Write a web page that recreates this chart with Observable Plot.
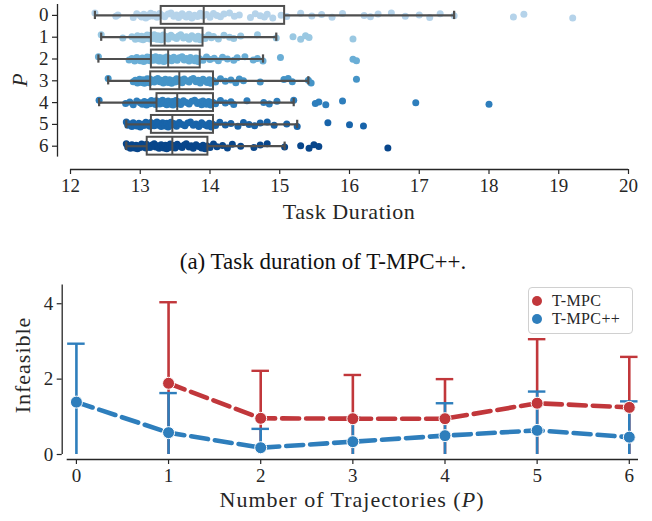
<!DOCTYPE html>
<html><head><meta charset="utf-8">
<script src="https://cdn.jsdelivr.net/npm/d3@7"></script>
<script src="https://cdn.jsdelivr.net/npm/@observablehq/plot@0.6"></script>
<style>
body{margin:0;background:#fff}
#wrap{position:relative;width:652px;height:521px;font-family:"Liberation Serif",serif;color:#262626;background:#fff;overflow:hidden}
#wrap svg{position:absolute;left:0;overflow:visible;font-family:"Liberation Serif",serif}
#caption{position:absolute;left:0;width:646px;top:248px;text-align:center;font-size:23px;line-height:28px;color:#111}
#legend{position:absolute;left:528px;top:287px;width:105px;height:47px;border:1px solid #d0d0d0;border-radius:4px;background:rgba(255,255,255,0.85);box-sizing:border-box;font-size:16px}
#legend .row{position:absolute;left:0;height:18px;line-height:18px;white-space:nowrap}
#legend .dot{position:absolute;left:3px;top:4px;width:10px;height:10px;border-radius:50%}
#legend .lab{position:absolute;left:23px;top:0;letter-spacing:0.4px}
</style></head><body><div id="wrap"></div><script>
// ---------- top panel: task duration per number of trajectories P ----------
const P = [0, 1, 2, 3, 4, 5, 6];
const durationTicks = [12, 13, 14, 15, 16, 17, 18, 19, 20];
const dur0 = [12.35,12.65,12.68,12.9,12.95,13.0,13.02,13.05,13.08,13.1,13.12,13.15,13.18,13.2,13.24,13.28,
  13.32,13.35,13.4,13.44,13.48,13.52,13.55,13.6,13.63,13.66,13.7,13.74,13.78,13.82,13.86,13.9,
  13.95,14.0,14.05,14.1,14.15,14.2,14.28,14.35,14.42,14.58,14.65,14.72,14.78,14.82,14.9,15.02,
  15.1,15.3,15.46,15.6,15.75,15.9,16.21,16.3,16.41,16.6,16.8,17.0,17.15,17.3,17.5,18.35,18.5,19.2];
const dur1 = [12.44,12.75,12.88,12.93,12.96,12.98,13.0,13.02,13.04,13.06,13.08,13.1,13.11,13.12,13.14,13.15,
  13.17,13.18,13.19,13.2,13.21,13.22,13.24,13.25,13.26,13.27,13.28,13.3,13.31,13.32,13.33,13.34,
  13.37,13.4,13.44,13.48,13.52,13.55,13.58,13.62,13.66,13.7,13.74,13.78,13.8,13.83,13.86,13.89,
  13.93,13.98,14.02,14.05,14.12,14.2,14.28,14.34,14.44,14.68,14.95,15.19,15.3,15.37,15.42,16.05];
const dur2 = [12.4,12.84,12.88,12.92,12.95,12.98,13.0,13.03,13.05,13.07,13.09,13.1,13.12,13.13,13.14,13.15,
  13.17,13.19,13.2,13.22,13.24,13.25,13.27,13.28,13.3,13.31,13.33,13.34,13.35,13.37,13.38,13.39,
  13.42,13.45,13.48,13.5,13.53,13.56,13.6,13.63,13.66,13.7,13.72,13.75,13.78,13.8,13.83,13.85,
  13.9,13.95,14.0,14.06,14.12,14.18,14.25,14.34,14.39,14.5,14.62,14.68,14.76,15.01,16.05,16.1];
const dur3 = [12.54,12.9,12.93,12.96,12.99,13.0,13.02,13.04,13.06,13.07,13.09,13.1,13.11,13.12,13.13,13.14,
  13.17,13.2,13.22,13.25,13.28,13.3,13.33,13.36,13.38,13.4,13.42,13.45,13.48,13.5,13.52,13.55,
  13.58,13.6,13.63,13.66,13.7,13.73,13.76,13.8,13.83,13.86,13.9,13.93,13.96,13.99,14.01,14.04,
  14.08,14.15,14.22,14.3,14.37,14.42,14.48,14.72,15.06,15.12,15.18,15.41,15.45,16.1];
const dur4 = [12.41,12.79,12.85,12.9,12.95,13.0,13.03,13.06,13.09,13.12,13.14,13.16,13.18,13.2,13.22,13.23,
  13.26,13.28,13.3,13.32,13.34,13.36,13.38,13.4,13.42,13.44,13.46,13.47,13.48,13.5,13.51,13.52,
  13.55,13.58,13.62,13.66,13.7,13.74,13.78,13.82,13.86,13.88,13.9,13.92,13.95,13.98,14.01,14.04,
  14.08,14.15,14.22,14.3,14.34,14.53,14.77,14.85,14.96,15.2,15.51,15.56,15.66,15.9,16.95,18.0];
const dur5 = [12.8,12.82,12.85,12.88,12.9,12.93,12.95,12.98,13.0,13.03,13.05,13.08,13.1,13.12,13.14,13.15,
  13.18,13.2,13.22,13.24,13.26,13.28,13.3,13.32,13.34,13.36,13.38,13.4,13.41,13.42,13.44,13.45,
  13.48,13.52,13.56,13.6,13.64,13.68,13.72,13.76,13.8,13.84,13.88,13.92,13.96,13.99,14.02,14.04,
  14.08,14.14,14.22,14.3,14.4,14.48,14.56,14.64,14.72,14.82,14.92,15.1,15.25,15.69,16.0,16.2];
const dur6 = [12.8,12.82,12.84,12.86,12.88,12.9,12.92,12.94,12.96,12.98,13.0,13.02,13.04,13.06,13.08,13.09,
  13.12,13.14,13.17,13.2,13.22,13.25,13.27,13.3,13.32,13.34,13.36,13.38,13.4,13.42,13.43,13.45,
  13.48,13.5,13.53,13.56,13.6,13.63,13.66,13.7,13.73,13.76,13.8,13.84,13.88,13.9,13.93,13.96,
  14.0,14.05,14.1,14.18,14.25,14.32,14.44,14.63,14.72,14.82,15.07,15.3,15.42,15.49,15.56,16.55];
const boxWhiskerLow = [12.35, 12.44, 12.40, 12.54, 12.41, 12.80, 12.80];
const boxQ1         = [13.30, 13.16, 13.16, 13.15, 13.24, 13.16, 13.10];
const boxMedian     = [13.91, 13.35, 13.40, 13.56, 13.53, 13.46, 13.46];
const boxQ3         = [15.07, 13.90, 13.86, 14.05, 14.05, 14.05, 13.97];
const boxWhiskerHigh= [17.50, 14.95, 14.76, 15.41, 15.20, 15.25, 15.07];
const rowColors = ["#b5d3ea", "#9ac8e2", "#6aaed6", "#4594c7", "#2e7ebc", "#1864aa", "#08468b"];

// ---------- bottom panel: infeasible count ----------
const trajCount = [0, 1, 2, 3, 4, 5, 6];
const tmpcP = [1, 2, 3, 4, 5, 6];
const tmpcMean = [1.89, 0.96, 0.95, 0.95, 1.36, 1.25];
const tmpcStd  = [2.15, 1.26, 1.16, 1.05, 1.70, 1.34];
const tmpcppP = [0, 1, 2, 3, 4, 5, 6];
const tmpcppMean = [1.39, 0.58, 0.18, 0.34, 0.50, 0.64, 0.46];
const tmpcppStd  = [1.55, 1.05, 0.50, 0.63, 0.86, 1.03, 0.95];
const infeasibleTicks = [0, 2, 4];
const seriesNames = ["T-MPC", "T-MPC++"];
const seriesColors = ["#c1373b", "#2e7ebc"];

// jitter pattern for the strip (visual spread only)
const jitterPattern = [-0.9,0.35,-0.2,0.8,-0.6,0.1,0.65,-0.4,0.95,-0.1,0.45,-0.8,0.2,-0.3,0.7,-0.7,0.0,0.5,-0.5];
const durRows = [dur0, dur1, dur2, dur3, dur4, dur5, dur6];
const points = durRows.flatMap((vals, p) => vals.map((v, i) => ({p, v, yj: p + jitterPattern[i % jitterPattern.length] * 0.12})));

const axisColor = "#262626";
const boxColor = "#4f4f4f";
const fontFam = "'Liberation Serif', serif";
const wrap = document.getElementById("wrap");

const topPlot = Plot.plot({
  width: 652, height: 232,
  marginLeft: 57, marginRight: 24, marginTop: 4, marginBottom: 63,
  x: {domain: [12, 20], insetLeft: 13},
  y: {domain: [-0.5, 6.5], reverse: true, insetBottom: 12.4},
  color: {type: "ordinal", domain: P, range: rowColors},
  style: {fontFamily: fontFam, fontSize: "19px", color: axisColor, background: "transparent"},
  marks: [
    Plot.dot(points, {x: "v", y: "yj", r: 3.5, fill: "p", stroke: "none"}),
    Plot.ruleY(P, {y: P, x1: boxWhiskerLow, x2: boxQ1, stroke: boxColor, strokeWidth: 2.2}),
    Plot.ruleY(P, {y: P, x1: boxQ3, x2: boxWhiskerHigh, stroke: boxColor, strokeWidth: 2.2}),
    Plot.ruleX(P, {x: boxWhiskerLow, y1: P.map(p => p - 0.19), y2: P.map(p => p + 0.19), stroke: boxColor, strokeWidth: 2.2}),
    Plot.ruleX(P, {x: boxWhiskerHigh, y1: P.map(p => p - 0.19), y2: P.map(p => p + 0.19), stroke: boxColor, strokeWidth: 2.2}),
    Plot.rect(P, {x1: boxQ1, x2: boxQ3, y1: P.map(p => p - 0.41), y2: P.map(p => p + 0.41), fill: "none", stroke: boxColor, strokeWidth: 2}),
    Plot.ruleX(P, {x: boxMedian, y1: P.map(p => p - 0.41), y2: P.map(p => p + 0.41), stroke: boxColor, strokeWidth: 2}),
    Plot.axisX(durationTicks, {tickSize: 5, tickPadding: 4, label: null, stroke: axisColor, strokeWidth: 1.2}),
    Plot.axisY(P, {tickSize: 5, tickPadding: 4, label: null, stroke: axisColor, strokeWidth: 1.2}),
    Plot.ruleX([12], {y1: -0.5, y2: 6.5, dx: -13, stroke: axisColor, strokeWidth: 1.3}),
    Plot.ruleY([6.5], {x1: 12, x2: 20, dy: 12.4, stroke: axisColor, strokeWidth: 1.3})
  ]
});
topPlot.style.top = "0px";
wrap.appendChild(topPlot);
const ts = d3.select(topPlot);
ts.append("text").attr("transform", "translate(27,80) rotate(-90)").attr("text-anchor", "middle")
  .attr("font-family", fontFam).attr("font-size", 22).attr("font-style", "italic").attr("fill", axisColor).text("P");
ts.append("text").attr("x", 349).attr("y", 219).attr("text-anchor", "middle")
  .attr("font-family", fontFam).attr("font-size", 22).attr("letter-spacing", 0.6).attr("fill", axisColor).text("Task Duration");

const cap = document.createElement("div");
cap.id = "caption";
cap.textContent = "(a) Task duration of T-MPC++.";
wrap.appendChild(cap);

const errTop = (m, s) => m + s;
const errLow = (m, s) => Math.max(0, m - s);
const capHalf = 0.095;
const red = seriesColors[0], blue = seriesColors[1];
const tmpc = tmpcP.map((p, i) => ({p, m: tmpcMean[i], lo: errLow(tmpcMean[i], tmpcStd[i]), hi: errTop(tmpcMean[i], tmpcStd[i])}));
const tmpcpp = tmpcppP.map((p, i) => ({p, m: tmpcppMean[i], lo: errLow(tmpcppMean[i], tmpcppStd[i]), hi: errTop(tmpcppMean[i], tmpcppStd[i])}));

const bottomPlot = Plot.plot({
  width: 652, height: 251,
  marginLeft: 61.7, marginRight: 14, marginTop: 14.4, marginBottom: 62,
  x: {domain: [-0.1, 6.1], insetLeft: 5},
  y: {domain: [0, 4.5], insetBottom: 5},
  style: {fontFamily: fontFam, fontSize: "19px", color: axisColor, background: "transparent"},
  marks: [
    Plot.ruleX(tmpc, {x: "p", y1: "lo", y2: "hi", stroke: red, strokeWidth: 2.6}),
    Plot.ruleY(tmpc, {y: "hi", x1: d => d.p - capHalf, x2: d => d.p + capHalf, stroke: red, strokeWidth: 2.4}),
    Plot.ruleX(tmpcpp, {x: "p", y1: "lo", y2: "hi", stroke: blue, strokeWidth: 2.6}),
    Plot.ruleY(tmpcpp, {y: "hi", x1: d => d.p - capHalf, x2: d => d.p + capHalf, stroke: blue, strokeWidth: 2.4}),
    Plot.line(tmpc, {x: "p", y: "m", stroke: red, strokeWidth: 4.6, strokeDasharray: "17,7"}),
    Plot.dot(tmpc, {x: "p", y: "m", r: 6, fill: red, stroke: "white", strokeWidth: 1}),
    Plot.line(tmpcpp, {x: "p", y: "m", stroke: blue, strokeWidth: 4.6, strokeDasharray: "17,7"}),
    Plot.dot(tmpcpp, {x: "p", y: "m", r: 6, fill: blue, stroke: "white", strokeWidth: 1}),
    Plot.axisX(trajCount, {tickSize: 5, tickPadding: 4, label: null, stroke: axisColor, strokeWidth: 1.2}),
    Plot.axisY(infeasibleTicks, {tickSize: 5, tickPadding: 4, label: null, stroke: axisColor, strokeWidth: 1.2}),
    Plot.ruleX([-0.1], {y1: 0, y2: 4.5, dx: -5, stroke: axisColor, strokeWidth: 1.3}),
    Plot.ruleY([0], {x1: -0.1, x2: 6.1, dy: 5, stroke: axisColor, strokeWidth: 1.3})
  ]
});
bottomPlot.style.top = "270px";
wrap.appendChild(bottomPlot);
const bs = d3.select(bottomPlot);
bs.append("text").attr("transform", "translate(30,95) rotate(-90)").attr("text-anchor", "middle")
  .attr("font-family", fontFam).attr("font-size", 22).attr("letter-spacing", 1).attr("fill", axisColor).text("Infeasible");
const xl = bs.append("text").attr("x", 352).attr("y", 237).attr("text-anchor", "middle")
  .attr("font-family", fontFam).attr("font-size", 22).attr("letter-spacing", 1).attr("fill", axisColor);
xl.append("tspan").text("Number of Trajectories (");
xl.append("tspan").attr("font-style", "italic").text("P");
xl.append("tspan").text(")");

// legend
const leg = document.createElement("div");
leg.id = "legend";
seriesNames.forEach((name, i) => {
  const row = document.createElement("div");
  row.className = "row";
  row.style.top = (4 + i * 18) + "px";
  row.innerHTML = `<span class="dot" style="background:${seriesColors[i]}"></span><span class="lab">${name}</span>`;
  leg.appendChild(row);
});
wrap.appendChild(leg);
</script></body></html>
